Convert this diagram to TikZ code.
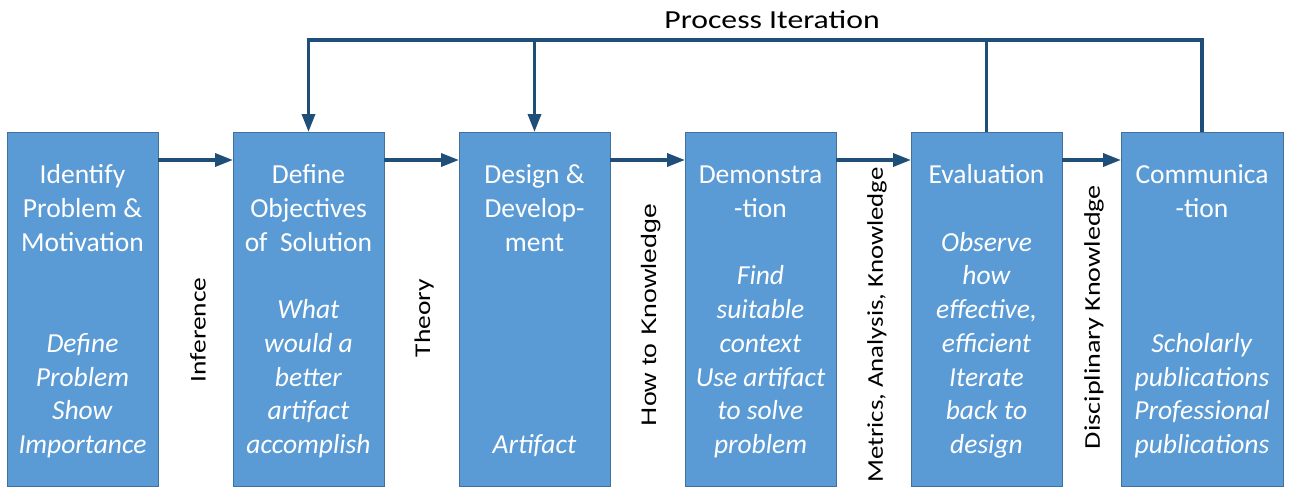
\documentclass[tikz,border=0pt]{standalone}
\usepackage{fontspec}
\usepackage{graphicx}
\setmainfont{Carlito}
\newfontfamily\arialfont{Liberation Sans}
\usetikzlibrary{arrows.meta, positioning}
\definecolor{boxblue}{RGB}{91,155,213}
\definecolor{boxedge}{RGB}{65,113,156}
\definecolor{flowblue}{RGB}{31,78,121}
\newcommand{\topstrut}{\rule{0pt}{29.6pt}}

\begin{document}
\begin{tikzpicture}[
        x=1pt, y=-1pt,
        >={Triangle[length=18pt,width=13pt]},
        step box/.style={draw=boxedge, line width=0.8pt, fill=boxblue, text=white,
            align=center, inner sep=0pt, outer sep=0pt, minimum width=151pt, minimum height=354pt,
            font=\fontsize{27.5}{33.75}\selectfont},
        link/.style={line width=3.5pt, color=flowblue, line join=miter},
        arrow/.style={link, ->},
        side label/.style={rotate=90, inner sep=0pt, font=\fontsize{22.5}{26}\selectfont},
    ]
    \useasboundingbox (0,0) rectangle (1290,487);

    % Steps
    \node[step box, anchor=north west] (identify) at (7,132)
        {\topstrut Identify\\Problem \&\\Motivation\\\mbox{}\\\mbox{}\\
         \textit{Define}\\\textit{Problem}\\\textit{Show}\\\textit{Importance}\strut};
    \node[step box, right=75pt of identify] (objectives)
        {\topstrut Define\\Objectives\\of\ \ Solution\\\mbox{}\\
         \textit{What}\\\textit{would a}\\\textit{better}\\\textit{artifact}\\\textit{accomplish}\strut};
    \node[step box, right=75pt of objectives] (design)
        {\topstrut Design \&\\Develop-\\ment\\\mbox{}\\\mbox{}\\\mbox{}\\\mbox{}\\\mbox{}\\
         \textit{Artifact}\strut};
    \node[step box, right=75pt of design] (demo)
        {\topstrut Demonstra\\-tion\\\mbox{}\\
         \textit{Find}\\\textit{suitable}\\\textit{context}\\\textit{Use artifact}\\\textit{to solve}\\\textit{problem}\strut};
    \node[step box, right=75pt of demo] (evaluation)
        {\topstrut Evaluation\\\mbox{}\\
         \textit{Observe}\\\textit{how}\\\textit{effective,}\\\textit{efficient}\\\textit{Iterate}\\\textit{back to}\\\textit{design}\strut};
    \node[step box, minimum width=162pt, right=59pt of evaluation] (communication)
        {\topstrut Communica\\-tion\\\mbox{}\\\mbox{}\\\mbox{}\\
         \textit{Scholarly}\\\textit{publications}\\\textit{Professional}\\\textit{publications}\strut};

    % Labels between the steps
    \node[side label] (inference) at (198,330) {\scalebox{1.22}[1]{Inference}};
    \node[side label] (theory) at (424,318) {\scalebox{1.22}[1]{Theory}};
    \node[side label, font=\arialfont\fontsize{21}{25}\selectfont] (howto) at (651,315)
        {\scalebox{1.27}[1]{How to Knowledge}};
    \node[side label] (metrics) at (877,325) {\scalebox{1.19}[1]{Metrics, Analysis, Knowledge}};
    \node[side label] (disciplinary) at (1094,317) {\scalebox{1.25}[1]{Disciplinary Knowledge}};
    \node[font=\fontsize{26}{30}\selectfont] (iteration) at (772,20)
        {\scalebox{1.22}[1]{Process Iteration}};

    % Arrows
    \draw[arrow] ([yshift=-28pt]identify.north east) -- ([yshift=-28pt]objectives.north west);
    \draw[arrow] ([yshift=-28pt]objectives.north east) -- ([yshift=-28pt]design.north west);
    \draw[arrow] ([yshift=-28pt]design.north east) -- ([yshift=-28pt]demo.north west);
    \draw[arrow] ([yshift=-28pt]demo.north east) -- ([yshift=-28pt]evaluation.north west);
    \draw[arrow] ([yshift=-28pt]evaluation.north east) -- ([yshift=-28pt]communication.north west);

    % Iteration loop
    \coordinate (loop) at (0,40);
    \draw[arrow] (communication.north) |- (objectives.north |- loop) -- (objectives.north);
    \draw[arrow] (design.north |- loop) -- (design.north);
    \draw[link] (evaluation.north) -- (evaluation.north |- loop);

\end{tikzpicture}
\end{document}
